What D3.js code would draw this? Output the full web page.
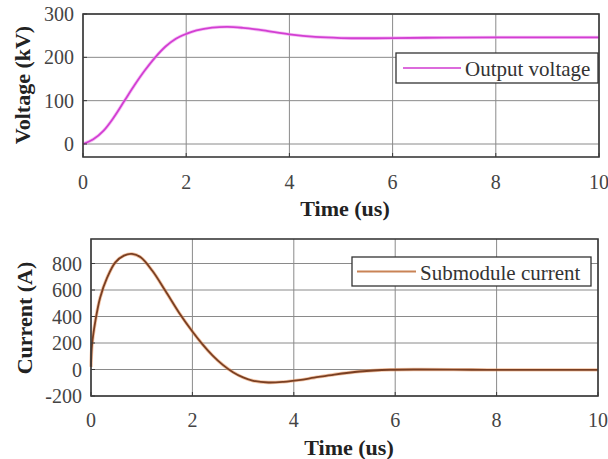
<!DOCTYPE html>
<html><head><meta charset="utf-8">
<script src="https://cdn.jsdelivr.net/npm/d3@7"></script>
<style>body{margin:0;background:#fff}svg{display:block}</style>
</head><body>
<svg id="c" width="608" height="459"></svg>
<script>
// Data
const voltageT = [0,0.2,0.4,0.6,0.8,1.0,1.2,1.4,1.6,1.8,2.0,2.2,2.5,2.8,3.1,3.5,4.0,4.5,5.0,5.5,6.0,7.0,8.0,9.0,10.0];
const voltageV = [0,11,31,62,99,136,170,200,225,243,254,262,268.5,270.5,268,262,253,247,244.5,244,244.5,245.5,246,246,246];
const currentT = [0,0.02,0.085,0.18,0.32,0.48,0.65,0.81,0.98,1.21,1.47,1.74,2.0,2.2,2.4,2.6,2.8,3.0,3.2,3.5,3.8,4.1,4.4,4.8,5.3,5.9,6.5,7.5,8.5,10.0];
const currentI = [20,185,363,542,695,809,860,872,847,745,592,427,287,190,105,35,-20,-60,-85,-98,-93,-80,-62,-38,-15,-2,0,-2,-3,-3];
const xTicks = [0,2,4,6,8,10];
const vTicks = [0,100,200,300];
const iTicks = [-200,0,200,400,600,800];

const svg = d3.select("#c");
const FF = '"Liberation Serif"';

function panel(o){
  const g = svg.append("g");
  const x = d3.scaleLinear().domain([0,10]).range([o.l,o.r]);
  const y = d3.scaleLinear().domain(o.yd).range([o.b,o.t]);
  g.append("rect").attr("x",o.l).attr("y",o.t).attr("width",o.r-o.l).attr("height",o.b-o.t).attr("fill","#fff");
  g.selectAll(".gx").data(xTicks).join("line").attr("x1",d=>x(d)).attr("x2",d=>x(d)).attr("y1",o.t).attr("y2",o.b).attr("stroke","#8a8a8a").attr("stroke-width",1);
  g.selectAll(".gy").data(o.yt).join("line").attr("y1",d=>y(d)).attr("y2",d=>y(d)).attr("x1",o.l).attr("x2",o.r).attr("stroke","#8a8a8a").attr("stroke-width",1);
  const line = d3.line().x((d,i)=>x(o.xs[i])).y(d=>y(d)).curve(d3.curveCatmullRom.alpha(0.5));
  g.append("path").datum(o.ys).attr("d",line).attr("fill","none").attr("stroke",o.glow).attr("stroke-width",3.4).attr("opacity",0.55);
  g.append("path").datum(o.ys).attr("d",line).attr("fill","none").attr("stroke",o.color).attr("stroke-width",1.8);
  g.append("rect").attr("x",o.l).attr("y",o.t).attr("width",o.r-o.l).attr("height",o.b-o.t).attr("fill","none").attr("stroke","#3a3a3a").attr("stroke-width",1.6);
  g.selectAll(".tx").data(xTicks).join("line").attr("x1",d=>x(d)).attr("x2",d=>x(d)).attr("y1",o.b).attr("y2",o.b-4).attr("stroke","#3a3a3a");
  g.selectAll(".ty").data(o.yt).join("line").attr("y1",d=>y(d)).attr("y2",d=>y(d)).attr("x1",o.l).attr("x2",o.l+4).attr("stroke","#3a3a3a");
  g.selectAll(".lx").data(xTicks).join("text").attr("x",d=>x(d)).attr("y",o.xly).attr("text-anchor","middle").attr("dominant-baseline","central")
    .style("font-family",FF).style("font-size","20px").attr("fill","#444").text(d=>d);
  g.selectAll(".ly").data(o.yt).join("text").attr("x",o.l-o.ylx).attr("y",d=>y(d)).attr("text-anchor","end").attr("dominant-baseline","central")
    .style("font-family",FF).style("font-size","20px").attr("fill","#444").text(d=>d);
  g.append("text").attr("x",o.xlabX).attr("y",o.xlabY).attr("text-anchor","middle").attr("dominant-baseline","central")
    .style("font-family",FF).style("font-size","22px").style("font-weight","bold").attr("fill","#222").text("Time (us)");
  g.append("text").attr("transform",`translate(${o.ylabX},${o.ylabY}) rotate(-90)`).attr("text-anchor","middle").attr("dominant-baseline","central")
    .style("font-family",FF).style("font-size","22px").style("font-weight","bold").attr("fill","#222").text(o.ylab);
  const L = o.leg;
  g.append("rect").attr("x",L.x).attr("y",L.y).attr("width",L.w).attr("height",L.h).attr("fill","#fff").attr("stroke","#333").attr("stroke-width",1.3);
  g.append("line").attr("x1",L.lx1).attr("x2",L.lx2).attr("y1",L.y+L.h/2).attr("y2",L.y+L.h/2).attr("stroke",L.c).attr("stroke-width",2);
  g.append("text").attr("x",L.tx).attr("y",L.y+L.h/2+1).attr("dominant-baseline","central").style("font-family",FF).style("font-size","21px").attr("fill","#333").text(L.text);
}

panel({l:83,r:599,t:14,b:157,yd:[-30,300],yt:vTicks,xs:voltageT,ys:voltageV,color:"#d23fd2",glow:"#ee90ee",
  xly:182,ylx:9,xlabX:345,xlabY:208,ylabX:22,ylabY:85,ylab:"Voltage (kV)",
  leg:{x:396,y:53,w:202,h:30,lx1:403,lx2:461,tx:465,c:"#dc6bdc",text:"Output voltage"}});
panel({l:91,r:598,t:239,b:396,yd:[-200,985],yt:iTicks,xs:currentT,ys:currentI,color:"#7a3f22",glow:"#e8925a",
  xly:420,ylx:9,xlabX:349,xlabY:447,ylabX:24,ylabY:318,ylab:"Current (A)",
  leg:{x:352,y:257,w:239,h:29,lx1:357,lx2:416,tx:420,c:"#c98356",text:"Submodule current"}});
</script>
</body></html>
